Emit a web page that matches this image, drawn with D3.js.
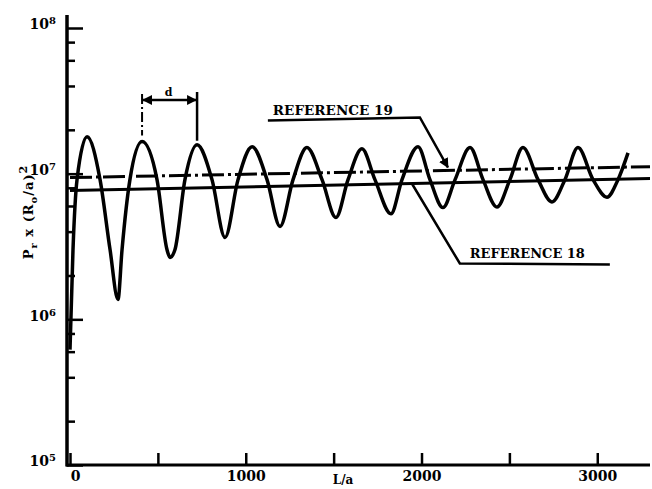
<!DOCTYPE html>
<html>
<head>
<meta charset="utf-8">
<script src="https://cdn.jsdelivr.net/npm/d3@7"></script>
<style>
  html, body { margin: 0; padding: 0; background: #fff; }
  svg { display: block; }
  text { font-family: 'DejaVu Serif', serif; font-weight: bold; fill: #000; }
</style>
</head>
<body>
<div id="chart"></div>
<script>
// L/a positions and Pr x (Ro/a)^2 values (peaks, troughs and crossings)
const curveL = [0, 17, 40, 97, 171, 228, 273, 296, 341, 410, 495, 552, 569, 597, 654,
  723, 808, 882, 956, 1036, 1121, 1195, 1269, 1348, 1434, 1513, 1582, 1661, 1735, 1826,
  1889, 1980, 2048, 2122, 2191, 2276, 2350, 2429, 2503, 2577, 2663, 2742, 2816, 2890,
  2976, 3055, 3118, 3175];
const curveV = [6.2e5, 3.0e6, 9.1e6, 1.79e7, 9.1e6, 3.0e6, 1.37e6, 3.0e6, 9.1e6, 1.66e7,
  9.1e6, 3.0e6, 2.66e6, 3.0e6, 9.1e6, 1.58e7, 9.1e6, 3.65e6, 9.1e6, 1.53e7, 9.1e6, 4.34e6,
  9.1e6, 1.51e7, 9.1e6, 5.0e6, 9.1e6, 1.48e7, 9.1e6, 5.3e6, 9.1e6, 1.53e7, 9.1e6, 5.85e6,
  9.1e6, 1.51e7, 9.1e6, 5.9e6, 9.1e6, 1.51e7, 9.1e6, 6.4e6, 9.1e6, 1.51e7, 9.1e6, 6.9e6,
  9.1e6, 1.39e7];

// the two reference levels (end points)
const ref19L = [0, 3300];
const ref19V = [9.4e6, 1.117e7];
const ref18L = [0, 3300];
const ref18V = [7.66e6, 9.25e6];

const xTicks = [0, 500, 1000, 1500, 2000, 2500, 3000];
const yMajor = [1e5, 1e6, 1e7, 1e8];
const yExp = ['5', '6', '7', '8'];
const yMinor = [2e5, 4e5, 6e5, 8e5, 2e6, 4e6, 6e6, 8e6, 2e7, 4e7, 6e7, 8e7];

const W = 652, H = 489;
const svg = d3.select('#chart').append('svg')
  .attr('width', W)
  .attr('height', H);

const x = d3.scaleLinear().domain([0, 3300]).range([70, 650]);
const y = d3.scaleLog().domain([1e5, 1e8]).range([465, 28]);

const defs = svg.append('defs');
defs.append('marker')
  .attr('id', 'arr')
  .attr('viewBox', '0 0 10 10')
  .attr('refX', 9).attr('refY', 5)
  .attr('markerWidth', 4).attr('markerHeight', 4)
  .attr('markerUnits', 'strokeWidth')
  .attr('orient', 'auto-start-reverse')
  .append('path')
    .attr('d', 'M0,0 L10,5 L0,10 z')
    .attr('fill', '#000');

// axes
const yAxisMinor = d3.axisLeft(y).tickValues(yMinor).tickSize(-8).tickFormat('');
const yAxisMajor = d3.axisLeft(y).tickValues(yMajor).tickSize(-16).tickPadding(11)
  .tickFormat((d, i) => '10');

const gyMinor = svg.append('g').attr('transform', 'translate(67,0)').call(yAxisMinor);
const gyMajor = svg.append('g').attr('transform', 'translate(67,0)').call(yAxisMajor);
[gyMinor, gyMajor].forEach(g => {
  g.select('.domain').remove();
  g.selectAll('line').attr('stroke', '#000').attr('stroke-width', 2.5);
});
gyMajor.selectAll('text')
  .attr('font-size', 14)
  .attr('font-family', "'DejaVu Serif', serif")
  .attr('dy', '0.05em')
  .each(function(d, i) {
    d3.select(this).append('tspan')
      .attr('dy', '-0.5em')
      .attr('font-size', 10)
      .text(yExp[i]);
  });

const xAxis = d3.axisBottom(x).tickValues(xTicks).tickSize(-12).tickPadding(6)
  .tickFormat(d => d % 1000 === 0 ? d : '');
const gx = svg.append('g').attr('transform', 'translate(0,465)').call(xAxis);
gx.select('.domain').remove();
gx.selectAll('line').attr('stroke', '#000').attr('stroke-width', 2.5);
gx.selectAll('text')
  .attr('font-size', 14)
  .attr('font-family', "'DejaVu Serif', serif")
  .attr('dx', d => d === 0 ? 5 : 0);

// axis lines
svg.append('line')
  .attr('x1', 67).attr('x2', 67)
  .attr('y1', 15).attr('y2', y(1e5) + 1.5)
  .attr('stroke', '#000').attr('stroke-width', 3.5);
svg.append('line')
  .attr('x1', 66).attr('x2', x(3300))
  .attr('y1', y(1e5)).attr('y2', y(1e5))
  .attr('stroke', '#000').attr('stroke-width', 3);

// axis titles
svg.append('text')
  .attr('x', 343).attr('y', 484)
  .attr('text-anchor', 'middle')
  .attr('font-size', 12)
  .text('L/a');

const yt = svg.append('text')
  .attr('transform', 'translate(33,212) rotate(-90)')
  .attr('text-anchor', 'middle')
  .attr('font-size', 13)
  .attr('letter-spacing', 1);
yt.append('tspan').text('P');
yt.append('tspan').attr('dy', 4).attr('font-size', 10).text('r');
yt.append('tspan').attr('dy', -4).text(' x (R');
yt.append('tspan').attr('dy', 4).attr('font-size', 10).text('o');
yt.append('tspan').attr('dy', -4).text('/a)');
yt.append('tspan').attr('dy', -6).attr('font-size', 11).text('2');

// reference lines
const refLine = d3.line().x(d => x(d[0])).y(d => y(d[1]));
svg.append('path')
  .datum(d3.zip(ref19L, ref19V))
  .attr('d', refLine)
  .attr('fill', 'none')
  .attr('stroke', '#000')
  .attr('stroke-width', 3)
  .attr('stroke-dasharray', '22,4,3,4');
svg.append('path')
  .datum(d3.zip(ref18L, ref18V))
  .attr('d', refLine)
  .attr('fill', 'none')
  .attr('stroke', '#000')
  .attr('stroke-width', 3);

// the oscillating curve
const curve = d3.line()
  .x(d => x(d[0]))
  .y(d => y(d[1]))
  .curve(d3.curveMonotoneX);
svg.append('path')
  .datum(d3.zip(curveL, curveV))
  .attr('d', curve)
  .attr('fill', 'none')
  .attr('stroke', '#000')
  .attr('stroke-width', 3.5)
  .attr('stroke-linejoin', 'round');

// pixel y on a reference line at a given L
function refY(Ls, Vs, L) {
  const t = (L - Ls[0]) / (Ls[1] - Ls[0]);
  return y(Vs[0]) + t * (y(Vs[1]) - y(Vs[0]));
}

// REFERENCE 19 label with leader
const t19 = [x(2150), refY(ref19L, ref19V, 2150) - 3];
svg.append('path')
  .attr('d', `M${t19[0] - 180},${t19[1] - 47} L${t19[0] - 28},${t19[1] - 50} L${t19[0]},${t19[1]}`)
  .attr('fill', 'none')
  .attr('stroke', '#000')
  .attr('stroke-width', 2.5)
  .attr('marker-end', 'url(#arr)');
svg.append('text')
  .attr('x', t19[0] - 175).attr('y', t19[1] - 52)
  .attr('font-size', 12)
  .attr('textLength', 120)
  .attr('lengthAdjust', 'spacingAndGlyphs')
  .text('REFERENCE 19');

// REFERENCE 18 label with leader
const t18 = [x(1945), refY(ref18L, ref18V, 1945)];
svg.append('path')
  .attr('d', `M${t18[0]},${t18[1]} L${t18[0] + 48},${t18[1] + 80} L${t18[0] + 198},${t18[1] + 81}`)
  .attr('fill', 'none')
  .attr('stroke', '#000')
  .attr('stroke-width', 2.5);
svg.append('text')
  .attr('x', t18[0] + 58).attr('y', t18[1] + 75)
  .attr('font-size', 12)
  .attr('textLength', 115)
  .attr('lengthAdjust', 'spacingAndGlyphs')
  .text('REFERENCE 18');

// spacing "d" between two peaks
const pA = [x(curveL[9]), y(curveV[9])];
const pB = [x(curveL[15]), y(curveV[15])];
const dY = 100;
svg.append('line')
  .attr('x1', pA[0]).attr('x2', pA[0])
  .attr('y1', dY - 6).attr('y2', pA[1] - 6)
  .attr('stroke', '#000').attr('stroke-width', 2)
  .attr('stroke-dasharray', '10,3,2,3');
svg.append('line')
  .attr('x1', pB[0]).attr('x2', pB[0])
  .attr('y1', dY - 8).attr('y2', pB[1] - 4)
  .attr('stroke', '#000').attr('stroke-width', 2.5);
svg.append('line')
  .attr('x1', pA[0] + 1).attr('x2', pB[0] - 1)
  .attr('y1', dY).attr('y2', dY)
  .attr('stroke', '#000').attr('stroke-width', 2.5)
  .attr('marker-start', 'url(#arr)')
  .attr('marker-end', 'url(#arr)');
svg.append('text')
  .attr('x', (pA[0] + pB[0]) / 2 - 1).attr('y', dY - 4)
  .attr('text-anchor', 'middle')
  .attr('font-size', 11)
  .text('d');
</script>
</body>
</html>
